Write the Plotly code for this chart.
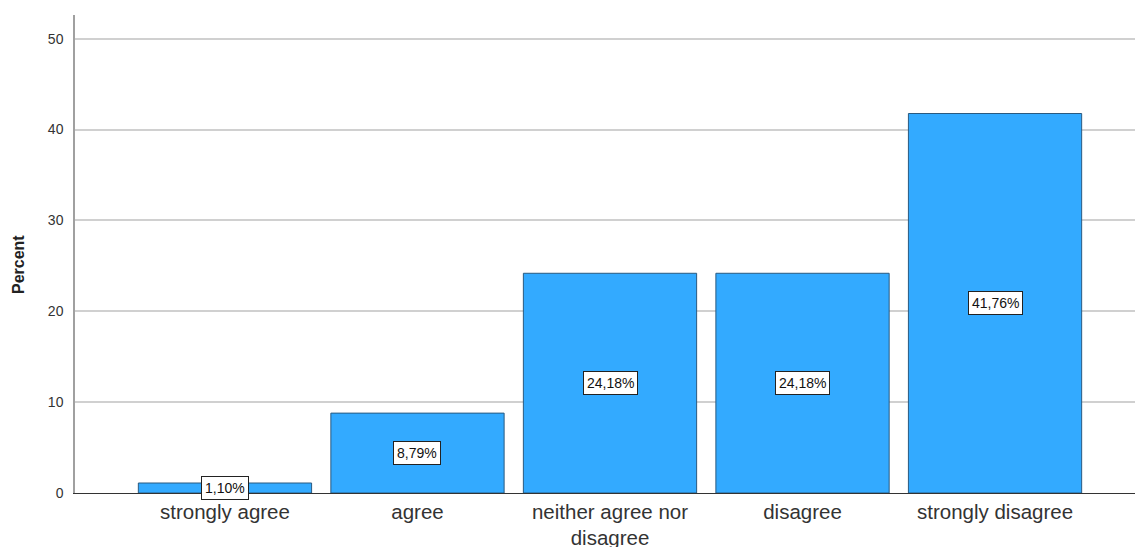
import plotly.graph_objects as go

# Response categories and their percentages
categories = ["strongly agree", "agree", "neither agree nor disagree", "disagree", "strongly disagree"]
tick_text = ["strongly agree", "agree", "neither agree nor<br>disagree", "disagree", "strongly disagree"]
percents = [1.10, 8.79, 24.18, 24.18, 41.76]
y_ticks = [0, 10, 20, 30, 40, 50]

x_pos = list(range(len(categories)))
labels = [f"{v:.2f}".replace(".", ",") + "%" for v in percents]

fig = go.Figure()
fig.add_trace(go.Bar(
    x=x_pos,
    y=percents,
    width=0.9,
    marker=dict(color="#33aaff", line=dict(color="#2a5a80", width=1)),
    hoverinfo="skip",
))

# Boxed value labels at the vertical middle of each bar
for x, v, t in zip(x_pos, percents, labels):
    fig.add_annotation(
        x=x, y=v / 2, text=t, showarrow=False,
        font=dict(family="Arial, Liberation Sans", size=14, color="#111"),
        bgcolor="white", bordercolor="#222", borderwidth=1, borderpad=3,
    )

# Y-axis title placed as a rotated annotation
fig.add_annotation(
    xref="paper", yref="paper", x=-0.0528, y=0.477,
    xanchor="center", yanchor="middle",
    text="<b>Percent</b>", textangle=-90, showarrow=False,
    font=dict(family="Arial, Liberation Sans", size=16, color="#222"),
)

fig.update_layout(
    width=1135, height=547,
    margin=dict(l=75, r=0, t=15, b=54),
    paper_bgcolor="white", plot_bgcolor="white",
    showlegend=False,
    font=dict(family="Arial, Liberation Sans", color="#333"),
    xaxis=dict(
        range=[-0.779, 4.727],
        tickvals=x_pos, ticktext=tick_text,
        tickfont=dict(size=20.5, color="#333"),
        showgrid=False, zeroline=False,
        showline=True, linecolor="#333", linewidth=1,
        ticks="", ticklen=0, ticklabelstandoff=0,
        automargin=False,
    ),
    yaxis=dict(
        range=[0, 52.6],
        tickvals=y_ticks,
        tickfont=dict(size=14, color="#333"),
        showgrid=True, gridcolor="#d0d0d0", gridwidth=1.5,
        zeroline=False,
        showline=True, linecolor="#a0a0a0", linewidth=1.5,
        ticks="", ticklabelstandoff=7,
        automargin=False,
    ),
)

fig.write_html("out.html")
